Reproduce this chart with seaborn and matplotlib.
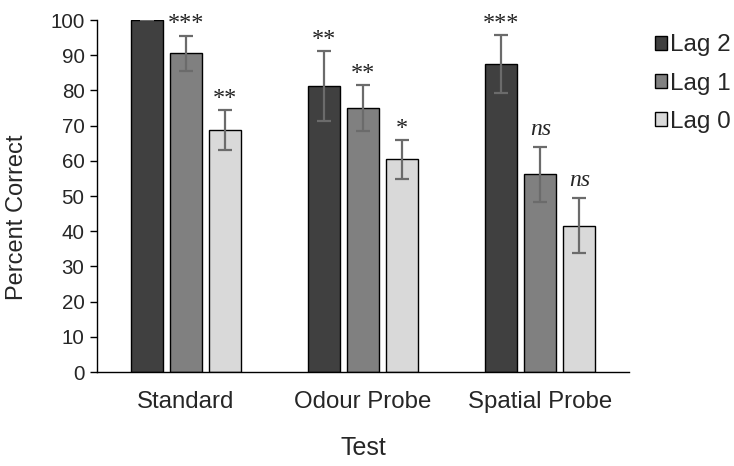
import numpy as np
import pandas as pd
import matplotlib
matplotlib.use("Agg")
import matplotlib.pyplot as plt
import seaborn as sns

tests = ["Standard", "Odour Probe", "Spatial Probe"]
lags = ["Lag 2", "Lag 1", "Lag 0"]
lag2 = [100.0, 81.3, 87.5]
lag1 = [90.6, 75.0, 56.2]
lag0 = [68.8, 60.4, 41.6]
lag2_err = [0.0, 10.0, 8.3]
lag1_err = [5.0, 6.5, 7.8]
lag0_err = [5.6, 5.6, 7.8]
lag2_sig = ["", "**", "***"]
lag1_sig = ["***", "**", "ns"]
lag0_sig = ["**", "*", "ns"]
colors = ["#404040", "#808080", "#d9d9d9"]

rows = []
for lag, vals in zip(lags, [lag2, lag1, lag0]):
    for t, v in zip(tests, vals):
        rows.append({"Test": t, "Lag": lag, "Percent": v})
df = pd.DataFrame(rows)

sns.set_theme(style="white")
plt.rcParams["font.family"] = ["Liberation Sans", "DejaVu Sans"]

fig = plt.figure(figsize=(7.34, 4.66), dpi=100)
ax = fig.add_axes([0.1322, 0.2017, 0.7248, 0.7553])

sns.barplot(data=df, x="Test", y="Percent", hue="Lag", order=tests,
            hue_order=lags, palette=colors, width=0.66, gap=0.18,
            errorbar=None, edgecolor="black", linewidth=1.0,
            saturation=1, ax=ax)

errs = [lag2_err, lag1_err, lag0_err]
sigs = [lag2_sig, lag1_sig, lag0_sig]
vals_all = [lag2, lag1, lag0]
for cont, err, sig, vals in zip(ax.containers, errs, sigs, vals_all):
    xs = [p.get_x() + p.get_width() / 2 for p in cont.patches]
    ax.errorbar(xs, vals, yerr=err, fmt="none", ecolor="#6b6b6b",
                elinewidth=1.6, capsize=5, capthick=1.6, zorder=5)
    for x, v, e, s in zip(xs, vals, err, sig):
        if not s:
            continue
        if s == "ns":
            ax.text(x, v + e + 2.0, s, ha="center", va="bottom",
                    fontsize=17, fontstyle="italic",
                    family=["Liberation Serif", "DejaVu Serif"])
        else:
            ax.text(x, v + e + 0.3, s, ha="center", va="bottom",
                    fontsize=17.5, family=["Liberation Serif", "DejaVu Serif"],
                    color="#222222")

ax.set_ylim(0, 100)
ax.set_xlim(-0.5, 2.5)
ax.set_yticks(range(0, 101, 10))
ax.tick_params(axis="y", which="both", left=True, length=5, width=1,
               color="black", labelsize=14.8, pad=4)
ax.tick_params(axis="x", bottom=False, labelsize=17.3, pad=8)
for s in ["top", "right"]:
    ax.spines[s].set_visible(False)
for s in ["left", "bottom"]:
    ax.spines[s].set_color("black")
    ax.spines[s].set_linewidth(1.0)
ax.set_ylabel("Percent Correct", fontsize=17, labelpad=10)
ax.yaxis.set_label_coords(-0.13, 0.44)
ax.set_xlabel("Test", fontsize=18, labelpad=16)

leg = ax.legend(loc="upper left", bbox_to_anchor=(1.03, 0.987), frameon=False,
                fontsize=17.5, handlelength=0.5, handleheight=0.5,
                handletextpad=0.12, labelspacing=0.67, borderaxespad=0)
for h in leg.legend_handles:
    h.set_edgecolor("black")
    h.set_linewidth(1.0)

fig.savefig("out.png", dpi=100)
